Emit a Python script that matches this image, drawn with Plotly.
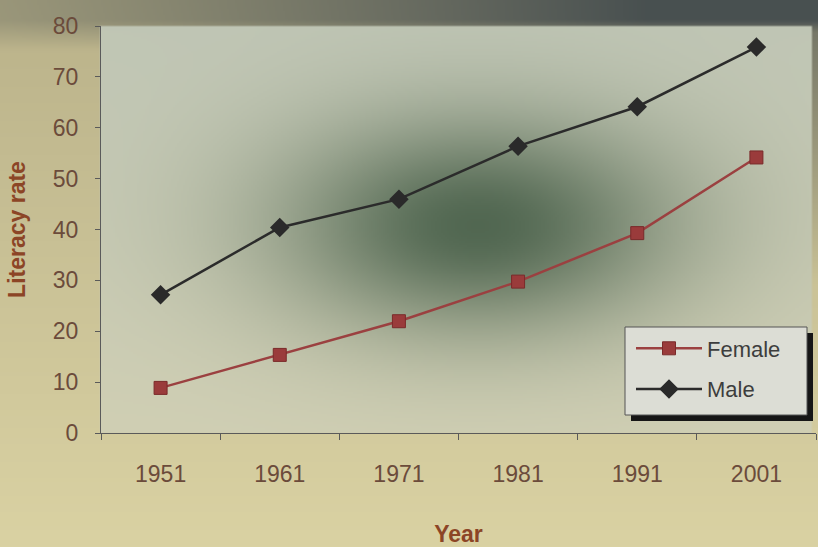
import base64
import struct
import zlib

import numpy as np
import plotly.graph_objects as go

# ---- data -----------------------------------------------------------------
years = ["1951", "1961", "1971", "1981", "1991", "2001"]
female = [8.86, 15.35, 21.97, 29.76, 39.29, 54.16]
male = [27.16, 40.40, 45.96, 56.38, 64.13, 75.85]
y_ticks = [0, 10, 20, 30, 40, 50, 60, 70, 80]

# ---- canvas geometry (pixels) ----------------------------------------------
W, H = 818, 547
PLOT_L, PLOT_R, PLOT_T, PLOT_B = 101, 816, 26, 433


def fx(px):
    return px / W


def fy(py):
    return 1 - py / H


# ---- backdrop: beige card, dark top band, green haze in the plot area -------
def png_uri(rgb):
    h, w, _ = rgb.shape
    raw = b"".join(b"\x00" + rgb[i].tobytes() for i in range(h))

    def chunk(tag, data):
        c = struct.pack(">I", len(data)) + tag + data
        return c + struct.pack(">I", zlib.crc32(tag + data) & 0xFFFFFFFF)

    png = (b"\x89PNG\r\n\x1a\n"
           + chunk(b"IHDR", struct.pack(">IIBBBBB", w, h, 8, 2, 0, 0, 0))
           + chunk(b"IDAT", zlib.compress(raw, 9))
           + chunk(b"IEND", b""))
    return "data:image/png;base64," + base64.b64encode(png).decode()


def lerp(a, b, t):
    a = np.asarray(a, float)
    b = np.asarray(b, float)
    return a + (b - a) * t[..., None]


SCALE = 2
gx = (np.arange(W // SCALE) + 0.5) * SCALE
gy = (np.arange((H + 1) // SCALE) + 0.5) * SCALE
X, Y = np.meshgrid(gx, gy)

# outer card
beige = lerp((186, 178, 138), (218, 210, 163), np.clip(Y / H, 0, 1))
sx = np.clip(X / 650, 0, 1)
top = np.clip(1 - (Y - 20) / 30, 0, 1)
w_dark = top * (0.28 + 0.70 * sx ** 1.1)
right = np.clip((X - 806) / 6, 0, 1) * np.clip(1 - (Y - 26) / 260, 0, 1) * 0.6
w_dark = np.maximum(w_dark, right)
outer = lerp(beige, (70, 78, 79), w_dark)

# plot panel
pbase = lerp((192, 198, 181), (208, 207, 180),
             np.clip((Y - PLOT_T) / (PLOT_B - PLOT_T), 0, 1))
g = 0.82 * np.exp(-0.5 * (((X - 478) / 140) ** 2 + ((Y - 226) / 76) ** 2))
panel = lerp(pbase, (56, 82, 60), g)

inside = ((X >= PLOT_L) & (X <= 812) & (Y >= PLOT_T) & (Y <= PLOT_B)).astype(float)
img = outer * (1 - inside[..., None]) + panel * inside[..., None]
img = np.clip(img, 0, 255).astype(np.uint8)
backdrop = png_uri(img)

# ---- figure -----------------------------------------------------------------
TICK_COLOR = "#6b4b3b"
TITLE_COLOR = "#8c4526"
AXIS_COLOR = "#5a5a5a"
FONT = "Liberation Sans, Arial, sans-serif"

fig = go.Figure()
fig.add_trace(go.Scatter(
    x=years, y=female, name="Female", mode="lines+markers",
    line=dict(color="#9b4040", width=2.5),
    marker=dict(symbol="square", size=13, color="#9a3b3b",
                line=dict(color="#7a2a2a", width=1)),
    legendgroup="female",
))
fig.add_trace(go.Scatter(
    x=years, y=male, name="Male", mode="lines+markers",
    line=dict(color="#2b2b2b", width=2.5),
    marker=dict(symbol="diamond", size=15, color="#2a2a2a"),
    legendgroup="male",
))

fig.update_layout(
    width=W, height=H,
    margin=dict(l=0, r=0, t=0, b=0, autoexpand=False),
    paper_bgcolor="#d2c89c",
    plot_bgcolor="rgba(0,0,0,0)",
    font=dict(family=FONT),
    legend=dict(
        x=fx(631), y=fy(369), xanchor="left", yanchor="middle",
        bgcolor="rgba(0,0,0,0)", borderwidth=0,
        font=dict(family=FONT, size=22, color="#3d3d3d"),
        itemwidth=66, tracegroupgap=9,
    ),
    xaxis=dict(
        type="category", range=[-0.5, 5.5], domain=[fx(PLOT_L), fx(PLOT_R)],
        showgrid=False, zeroline=False,
        showline=True, linecolor=AXIS_COLOR, linewidth=1.2,
        ticks="outside", tickson="boundaries", ticklen=6, tickcolor=AXIS_COLOR,
        ticklabelstandoff=20,
        tickfont=dict(family=FONT, size=23, color=TICK_COLOR),
        title=dict(text="<b>Year</b>", standoff=40,
                   font=dict(family=FONT, size=23, color=TITLE_COLOR)),
    ),
    yaxis=dict(
        range=[0, 80], tickvals=y_ticks, domain=[fy(PLOT_B), fy(PLOT_T)],
        showgrid=False, zeroline=False,
        showline=True, linecolor=AXIS_COLOR, linewidth=1.2,
        ticks="outside", ticklen=5, tickcolor=AXIS_COLOR,
        ticklabelstandoff=12,
        tickfont=dict(family=FONT, size=23, color=TICK_COLOR),
        title=dict(text="<b>Literacy rate</b>", standoff=20,
                   font=dict(family=FONT, size=23, color=TITLE_COLOR)),
    ),
    images=[dict(source=backdrop, xref="paper", yref="paper", x=0, y=1,
                 sizex=1, sizey=1, sizing="stretch", layer="below")],
    shapes=[
        # legend drop shadow and panel
        dict(type="rect", xref="paper", yref="paper",
             x0=fx(631), x1=fx(813), y0=fy(421), y1=fy(333),
             fillcolor="#161616", line=dict(width=0), layer="above"),
        dict(type="rect", xref="paper", yref="paper",
             x0=fx(625), x1=fx(807), y0=fy(415), y1=fy(327),
             fillcolor="#dcddd5", line=dict(color="#555555", width=1), layer="above"),
    ],
)

fig.write_html("out.html")
